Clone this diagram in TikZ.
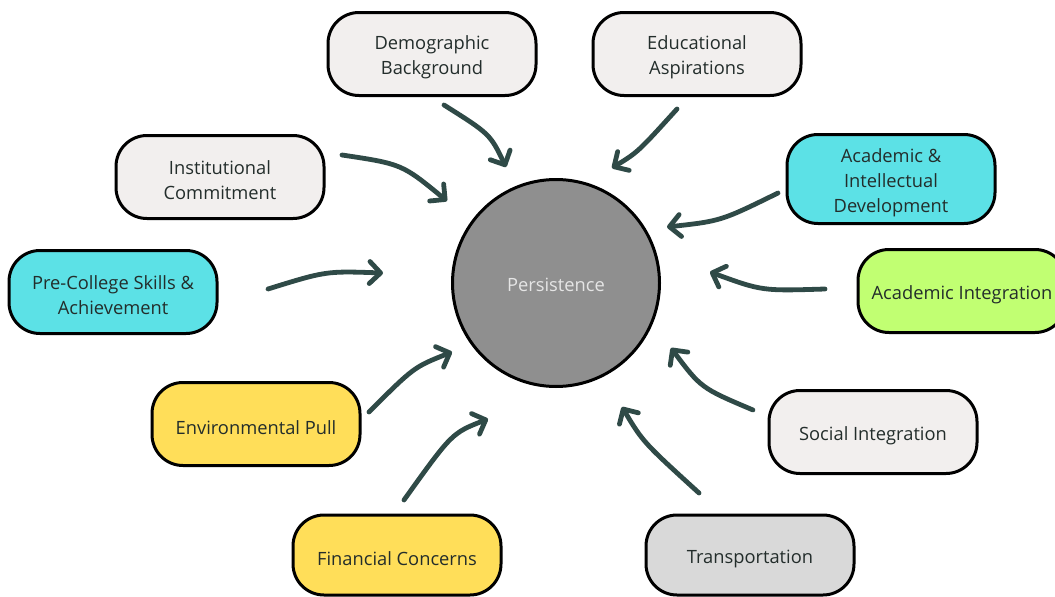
\documentclass[tikz,border=0pt]{standalone}
\usepackage{fontspec}
\setmainfont{Open Sans}
\usetikzlibrary{arrows.meta}
\definecolor{boxgray}{HTML}{F2EFEE}
\definecolor{boxcyan}{HTML}{5CE1E6}
\definecolor{boxgreen}{HTML}{C1FF72}
\definecolor{boxyellow}{HTML}{FFDE59}
\definecolor{boxsilver}{HTML}{D9D9D9}
\definecolor{circfill}{HTML}{8F8F8F}
\definecolor{txt}{HTML}{232D2B}
\definecolor{arrowc}{HTML}{2F4A47}
\begin{document}
\begin{tikzpicture}[x=1pt,y=-1pt,
  lab/.style={align=center, font=\fontsize{18.3}{25}\selectfont, text=txt, inner sep=0pt, yshift=-3.5pt},
  box/.style={draw=black, line width=3pt, rounded corners=31pt, minimum width=208pt,
    minimum height=83pt, inner sep=0pt},
  conn/.style={draw=arrowc, line width=4.8pt, line cap=round, line join=round,
    -{Straight Barb[length=11pt,width=22pt,round]}}]
\useasboundingbox (0,0) rectangle (1055,597);

\node[circle, draw=black, line width=3pt, fill=circfill, minimum size=207pt, inner sep=0pt,
  label={[lab, text=white!90!black, yshift=1.5pt]center:Persistence}] (P) at (556,283) {};

\node[box, fill=boxgray, label={[lab]center:Demographic\\Background}] (demo) at (432,54) {};
\node[box, fill=boxgray, label={[lab]center:Educational\\Aspirations}] (edu) at (697,54) {};
\node[box, fill=boxgray, label={[lab]center:Institutional\\Commitment}] (inst) at (220,177) {};
\node[box, fill=boxcyan, minimum height=89pt, label={[lab]center:Academic \&\\Intellectual\\Development}] (acad) at (891,179) {};
\node[box, fill=boxcyan, label={[lab]center:Pre-College Skills \&\\Achievement}] (pre) at (113,292) {};
\node[box, fill=boxgreen, label={[lab]center:Academic Integration}] (ai) at (962,291) {};
\node[box, fill=boxyellow, label={[lab]center:Environmental Pull}] (env) at (256,424) {};
\node[box, fill=boxgray, label={[lab]center:Social Integration}] (soc) at (873,432) {};
\node[box, fill=boxyellow, minimum height=80pt, label={[lab]center:Financial Concerns}] (fin) at (397,555) {};
\node[box, fill=boxsilver, minimum height=80pt, label={[lab]center:Transportation}] (tra) at (750,555) {};

% arrow end points
\coordinate (s1) at (444,105); \coordinate (e1) at (506,167);
\coordinate (s2) at (677,109); \coordinate (e2) at (612,168);
\coordinate (s3) at (342,155); \coordinate (e3) at (447,201);
\coordinate (s4) at (778,193); \coordinate (e4) at (667,227);
\coordinate (s5) at (268,289); \coordinate (e5) at (383,273);
\coordinate (s6) at (825,289); \coordinate (e6) at (710,272);
\coordinate (s7) at (369,412); \coordinate (e7) at (452,352);
\coordinate (s8) at (753,410); \coordinate (e8) at (671,348);
\coordinate (s9) at (404,500); \coordinate (e9) at (488,419);
\coordinate (s10) at (699,493); \coordinate (e10) at (622,407);

\draw[conn] (s1) .. controls (490,134) .. (e1);
\draw[conn] (s2) .. controls (638,152) .. (e2);
\draw[conn] (s3) .. controls (402,164) .. (e3);
\draw[conn] (s4) .. controls (721,221) .. (e4);
\draw[conn] (s5) .. controls (326,271) .. (e5);
\draw[conn] (s6) .. controls (762,291) .. (e6);
\draw[conn] (s7) .. controls (414,367) .. (e7);
\draw[conn] (s8) .. controls (701,388) .. (e8);
\draw[conn] (s9) .. controls (452,433) .. (e9);
\draw[conn] (s10) .. controls (643,442) .. (e10);
\end{tikzpicture}
\end{document}
